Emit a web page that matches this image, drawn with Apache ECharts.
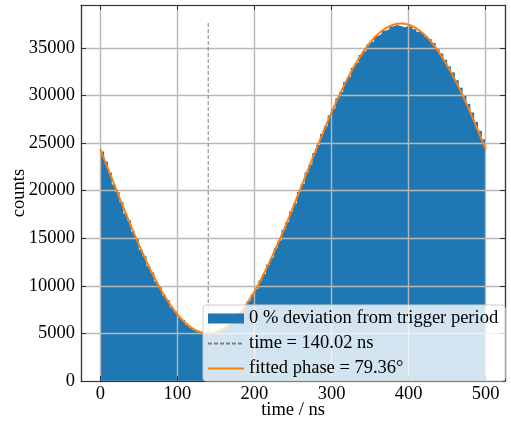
<!DOCTYPE html>
<html>
<head>
<meta charset="utf-8">
<script src="https://cdn.jsdelivr.net/npm/echarts@6/dist/echarts.min.js"></script>
<style>
  html, body { margin: 0; padding: 0; background: #ffffff; }
  #chart { width: 511px; height: 423px; }
</style>
</head>
<body>
<div id="chart"></div>
<script>
// Histogram: 100 bins of 5 ns between 0 and 500 ns
const binWidth = 5;
const binCounts = [
  24100, 23050, 21900, 20650, 19850, 18800, 17600, 16850, 15700, 14950,
  13800, 13100, 12050, 11400, 10450, 9850, 9000, 8500, 7750, 7300,
  6700, 6400, 5900, 5600, 5350, 5150, 5000, 4950, 5000, 5050,
  5150, 5400, 5600, 6000, 6300, 6800, 7250, 7850, 8400, 9100,
  9700, 10550, 11250, 12200, 12950, 13950, 14750, 15850, 16700, 17800,
  18650, 19850, 20700, 21900, 22750, 23950, 24800, 25950, 26750, 27900,
  28600, 29700, 30350, 31400, 31950, 32900, 33400, 34250, 34650, 35350,
  35650, 36250, 36450, 36800, 36950, 37250, 37400, 37300, 37150, 37300,
  37200, 36950, 36700, 36550, 36200, 35900, 35500, 34950, 34400, 33750,
  33050, 32400, 31600, 30800, 29950, 29100, 28200, 27200, 26300, 25400
];

// Fitted sinusoid, sampled every 10 ns
const fitTime = [
  0, 10, 20, 30, 40, 50, 60, 70, 80, 90,
  100, 110, 120, 130, 140, 150, 160, 170, 180, 190,
  200, 210, 220, 230, 240, 250, 260, 270, 280, 290,
  300, 310, 320, 330, 340, 350, 360, 370, 380, 390,
  400, 410, 420, 430, 440, 450, 460, 470, 480, 490, 500
];
const fitCounts = [
  24330, 22300, 20260, 18230, 16250, 14350, 12560, 10900, 9410, 8110,
  7010, 6140, 5510, 5130, 5000, 5130, 5510, 6140, 7010, 8110,
  9410, 10900, 12560, 14350, 16250, 18230, 20260, 22300, 24330, 26310,
  28210, 30000, 31660, 33150, 34450, 35550, 36420, 37050, 37430, 37560,
  37430, 37050, 36420, 35550, 34450, 33150, 31660, 30000, 28210, 26310, 24330
];

// Vertical marker at the fitted minimum
const markerTime = 140.02;
const markerSpan = [0, 37700];

const labels = {
  hist: '0 % deviation from trigger period',
  marker: 'time = 140.02 ns',
  fit: 'fitted phase = 79.36°'
};

// Step outline of the histogram (left and right edge of each bin)
const histOutline = [];
binCounts.forEach(function (c, i) {
  histOutline.push([i * binWidth, c]);
  histOutline.push([(i + 1) * binWidth, c]);
});

const fitPoints = fitTime.map(function (t, i) { return [t, fitCounts[i]]; });
const markerPoints = markerSpan.map(function (v) { return [markerTime, v]; });

const FONT = 'Liberation Serif';
const FS = 18.5;
const frame = { show: true, onZero: false, lineStyle: { color: '#333333', width: 1.2 } };
const ticksIn = { show: true, inside: true, length: 5, lineStyle: { color: '#333333', width: 1 } };
const gridLine = { show: true, lineStyle: { color: '#b8b8b8', width: 1.4 } };

const chart = echarts.init(document.getElementById('chart'), null, { renderer: 'canvas' });
chart.setOption({
  animation: false,
  backgroundColor: '#ffffff',
  grid: { left: 81, top: 5, right: 6, bottom: 42, containLabel: false, outerBoundsMode: 'none' },
  legend: {
    orient: 'vertical',
    left: 203,
    top: 305,
    z: 10,
    padding: [4, 7, 3, 4],
    itemGap: 6,
    itemWidth: 36,
    itemHeight: 10,
    backgroundColor: 'rgba(255,255,255,0.8)',
    borderColor: '#cccccc',
    borderWidth: 1,
    borderRadius: 3,
    textStyle: { fontFamily: FONT, fontSize: FS, color: '#000000', lineHeight: 18 },
    data: [
      { name: labels.hist, icon: 'rect' },
      { name: labels.marker, itemStyle: { opacity: 0 } },
      { name: labels.fit, itemStyle: { opacity: 0 } }
    ]
  },
  xAxis: [
    {
      type: 'value', position: 'bottom', min: -25, max: 525, z: 2,
      name: 'time / ns', nameLocation: 'middle', nameGap: 20, nameMoveOverlap: false,
      nameTextStyle: { fontFamily: FONT, fontSize: FS, color: '#000000' },
      axisLine: frame, axisTick: ticksIn, splitLine: gridLine,
      axisLabel: {
        margin: 4, fontFamily: FONT, fontSize: FS, color: '#000000',
        formatter: function (v) { return v % 100 === 0 ? String(v) : ''; }
      }
    },
    {
      type: 'value', position: 'top', min: -25, max: 525, z: 2,
      axisLine: frame, axisTick: ticksIn, splitLine: { show: false },
      axisLabel: { show: false }
    }
  ],
  yAxis: [
    {
      type: 'value', position: 'left', min: 0, max: 39500, interval: 5000, z: 2,
      name: 'counts', nameLocation: 'middle', nameGap: 52, nameMoveOverlap: false,
      nameTextStyle: { fontFamily: FONT, fontSize: FS, color: '#000000' },
      axisLine: frame, axisTick: ticksIn, splitLine: gridLine,
      axisLabel: {
        margin: 6, fontFamily: FONT, fontSize: FS, color: '#000000',
        formatter: function (v) { return v % 5000 === 0 ? String(v) : ''; }
      }
    },
    {
      type: 'value', position: 'right', min: 0, max: 39500, interval: 5000, z: 2,
      axisLine: frame, axisTick: ticksIn, splitLine: { show: false },
      axisLabel: { show: false }
    }
  ],
  series: [
    {
      name: labels.hist,
      type: 'line',
      z: 1,
      data: histOutline,
      showSymbol: false,
      symbol: 'none',
      itemStyle: { color: '#1f77b4' },
      lineStyle: { width: 1, opacity: 0, color: '#1f77b4' },
      areaStyle: { color: '#1f77b4', opacity: 1 }
    },
    {
      name: labels.marker,
      type: 'line',
      z: 3,
      data: markerPoints,
      symbol: 'none',
      itemStyle: { color: '#808080' },
      lineStyle: { color: '#808080', width: 1, type: [4, 2] }
    },
    {
      name: labels.fit,
      type: 'line',
      z: 4,
      data: fitPoints,
      smooth: true,
      symbol: 'none',
      itemStyle: { color: '#ff7f0e' },
      lineStyle: { color: '#ff7f0e', width: 2 }
    }
  ]
});
</script>
</body>
</html>
